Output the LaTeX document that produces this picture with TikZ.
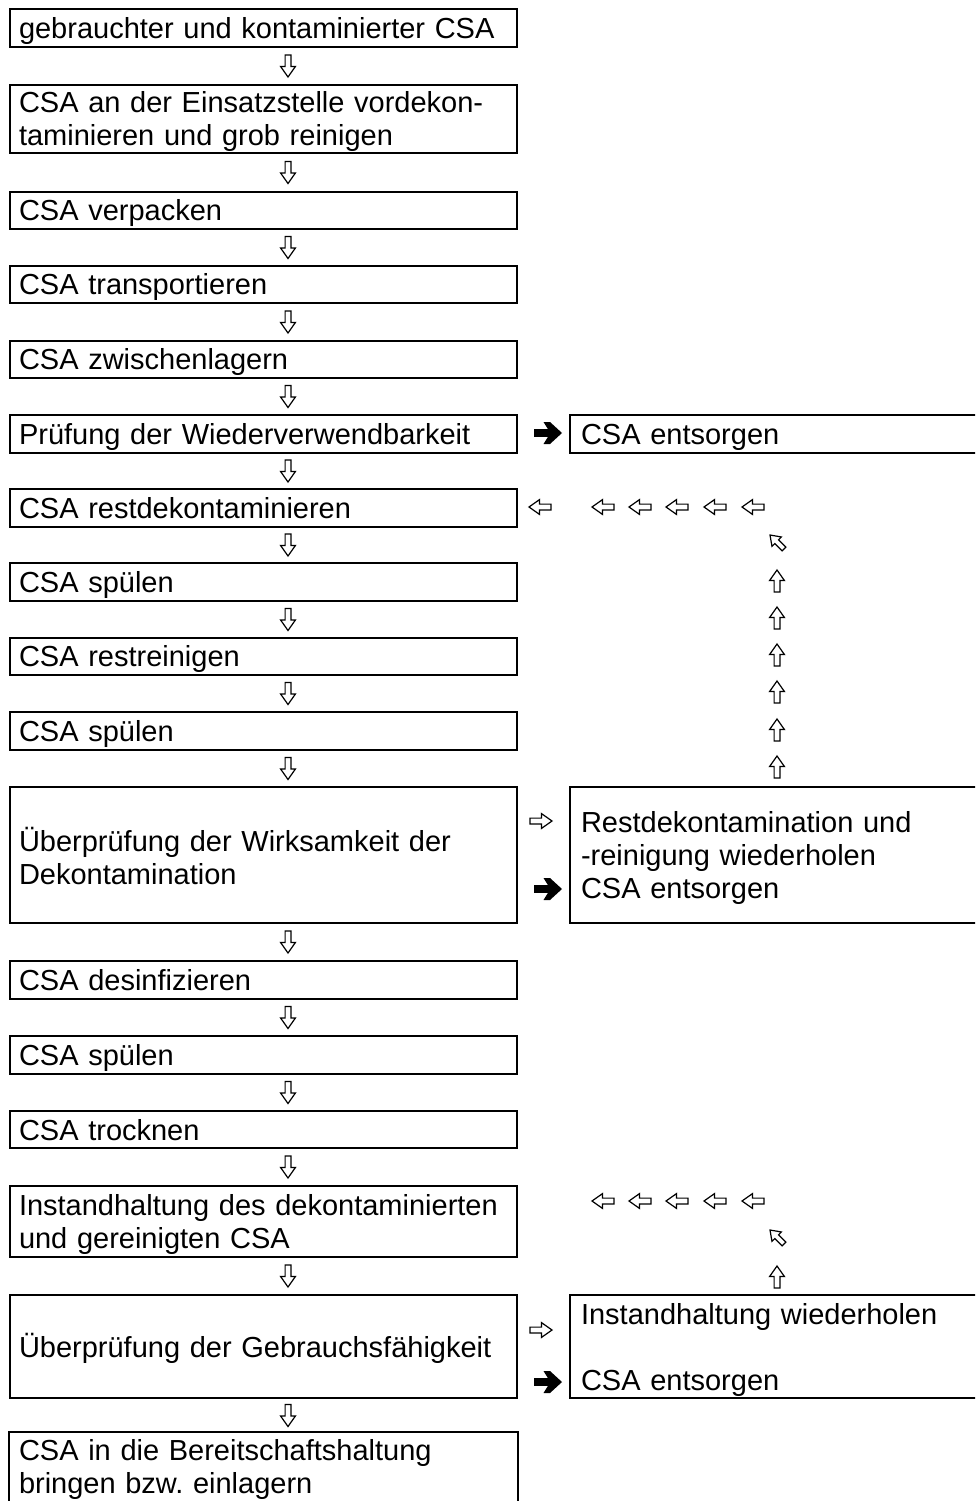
\documentclass[tikz,border=0pt]{standalone}
\usepackage{fontspec}
\setmainfont{Liberation Sans}
\usetikzlibrary{calc}
\newcommand\fsz{\fontsize{29pt}{33pt}\selectfont\frenchspacing}
\newcommand\linestrut{\rule[-6pt]{0pt}{33pt}}
\begin{document}
\begin{tikzpicture}[x=1pt,y=-1pt,
  box/.style={draw, line width=2pt, anchor=north west, text width=489pt, inner xsep=9pt, inner ysep=0pt, align=left, font=\fsz, execute at begin node=\linestrut},
  rbox/.style={box, text width=400pt, inner xsep=11pt},
  warrow/.pic={\draw[line width=1.2pt, line join=miter, fill=white] (-11,-2.9) -- (0.5,-2.9) -- (0.5,-7.4) -- (11,0) -- (0.5,7.4) -- (0.5,2.9) -- (-11,2.9) -- cycle;},
  barrow/.pic={\fill (-14,-3.8) -- (0,-3.8) -- (-4.5,-11) -- (2,-11) -- (14,0) -- (2,11) -- (-4.5,11) -- (0,3.8) -- (-14,3.8) -- cycle;}
]
\useasboundingbox (0,0) rectangle (975,1501);
\clip (0,0) rectangle (975,1501);

\node (n1) [box, minimum height=38pt] at (9,8) {gebrauchter und kontaminierter CSA};
\node (n2) [box, minimum height=68pt] at (9,84) {CSA an der Einsatzstelle vordekon-\\taminieren und grob reinigen};
\node (n3) [box, minimum height=37pt] at (9,191) {CSA verpacken};
\node (n4) [box, minimum height=37pt] at (9,265) {CSA transportieren};
\node (n5) [box, minimum height=37pt] at (9,340) {CSA zwischenlagern};
\node (n6) [box, minimum height=38pt] at (9,414) {Prüfung der Wiederverwendbarkeit};
\node (n7) [box, minimum height=38pt] at (9,488) {CSA restdekontaminieren};
\node (n8) [box, minimum height=38pt] at (9,562) {CSA spülen};
\node (n9) [box, minimum height=37pt] at (9,637) {CSA restreinigen};
\node (n10) [box, minimum height=38pt] at (9,711) {CSA spülen};
\node (n11) [box, minimum height=136pt] at (9,786) {Überprüfung der Wirksamkeit der\\Dekontamination};
\node (n12) [box, minimum height=38pt] at (9,960) {CSA desinfizieren};
\node (n13) [box, minimum height=38pt] at (9,1035) {CSA spülen};
\node (n14) [box, minimum height=37pt] at (9,1110) {CSA trocknen};
\node (n15) [box, minimum height=71pt] at (9,1185) {Instandhaltung des dekontaminierten\\und gereinigten CSA};
\node (n16) [box, minimum height=103pt] at (9,1294) {Überprüfung der Gebrauchsfähigkeit};
\node (n17) [box, draw=none, minimum height=64pt] at (9,1432) {CSA in die Bereitschaftshaltung\\bringen bzw. einlagern};
\draw[line width=2pt] ([yshift=-30pt]n17.south west) -- (n17.north west) -- (n17.north east) -- ([yshift=-30pt]n17.south east);

\node (r6) [rbox, minimum height=38pt] at (569,414) {CSA entsorgen};
\node (r11) [rbox, minimum height=136pt] at (569,786) {Restdekontamination und\\-reinigung wiederholen\\CSA entsorgen};
\node (r16) [rbox, minimum height=103pt] at (569,1294) {Instandhaltung wiederholen\\[33pt]CSA entsorgen};

\foreach \a/\b in {n1/n2,n2/n3,n3/n4,n4/n5,n5/n6,n6/n7,n7/n8,n8/n9,n9/n10,n10/n11,n11/n12,n12/n13,n13/n14,n14/n15,n15/n16,n16/n17}
  \path ([xshift=24.5pt]$(\a.south)!0.5!(\b.north)$) pic[rotate=-90]{warrow};

% black arrows to disposal
\path (548,433) pic{barrow};
\path (548,889) pic{barrow};
\path (548,1382) pic{barrow};
% white right arrows
\path (541,821) pic{warrow};
\path (541,1330) pic{warrow};

% upper return loop
\foreach \x in {540,603,640,677,715,753} \path (\x,507) pic[rotate=180]{warrow};
\path (777,542) pic[rotate=135,scale=0.9]{warrow};
\foreach \y in {581,618,655,692,730,767} \path (777,\y) pic[rotate=90]{warrow};

% lower return loop
\foreach \x in {603,640,677,715,753} \path (\x,1201) pic[rotate=180]{warrow};
\path (777,1237) pic[rotate=135,scale=0.9]{warrow};
\path (777,1277) pic[rotate=90]{warrow};
\end{tikzpicture}
\end{document}
